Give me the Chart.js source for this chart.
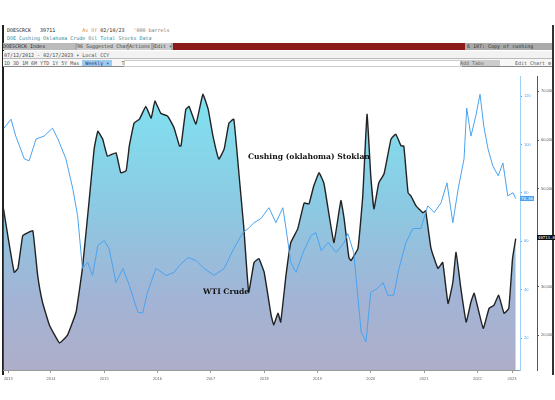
<!DOCTYPE html>
<html><head><meta charset="utf-8">
<script src="https://cdn.jsdelivr.net/npm/chart.js@4"></script>
<style>
body{margin:0;width:555px;height:400px;background:#fff;position:relative;overflow:hidden;font-family:"DejaVu Sans Mono",monospace}
.a{position:absolute;white-space:nowrap}
.t{font-size:5px}
</style></head><body>
<div class="a" style="left:2px;top:25px;width:2px;height:350px;background:#222"></div>
<div class="a" style="left:552px;top:25px;width:2px;height:350px;background:#333"></div>
<div class="a t" style="left:7px;top:27px;color:#222">DOESCRCK&nbsp;&nbsp;&nbsp;39711&nbsp;&nbsp;&nbsp;&nbsp;&nbsp;&nbsp;&nbsp;&nbsp;&nbsp;<span style="color:#e08a2a">As Of</span> 02/10/23&nbsp;&nbsp;&nbsp;<span style="color:#777">'000 barrels</span></div>
<div class="a t" style="left:7px;top:35px;color:#2a8a9a">DOE Cushing Oklahoma Crude Oil Total Stocks Data</div>
<div class="a" style="left:3px;top:43px;width:549px;height:7px;background:#aaa"></div>
<div class="a t" style="left:3px;top:43px;width:72px;height:7px;background:#bbb;color:#333">DOESCRCK Index</div>
<div class="a t" style="left:77px;top:43px;width:50px;height:7px;background:#ccc;color:#444">96 Suggested Charts</div>
<div class="a t" style="left:129px;top:43px;width:22px;height:7px;background:#ccc;color:#444">Actions ▾</div>
<div class="a t" style="left:154px;top:43px;width:17px;height:7px;background:#ccc;color:#444">Edit ▾</div>
<div class="a" style="left:173px;top:43px;width:292px;height:7px;background:#8b1a1a"></div>
<div class="a t" style="left:467px;top:43px;color:#333">6 107: Copy of cushing</div>
<div class="a" style="left:3px;top:51px;width:549px;height:7px;background:#f2f2f2;border-bottom:1px solid #bbb"></div>
<div class="a t" style="left:4px;top:52px;color:#444">07/12/2012 - 02/17/2023 ▾ Local CCY</div>
<div class="a" style="left:3px;top:59px;width:549px;height:7px;background:#f7f7f7;border-bottom:1px solid #888"></div>
<div class="a t" style="left:4px;top:60px;color:#555">1D 3D 1M 6M YTD 1Y 5Y Max <span style="background:#9ecbf0;color:#1a3a7a">&nbsp;Weekly ▾&nbsp;</span>&nbsp;&nbsp;&nbsp;Table</div>
<div class="a" style="left:124px;top:60px;width:336px;height:5px;background:#fff;border:1px solid #ccc"></div>
<div class="a t" style="left:460px;top:60px;width:40px;height:6px;background:#ccc;color:#666">Add Tabs</div>
<div class="a t" style="left:515px;top:60px;color:#555">Edit Chart ⚙</div>
<div class="a" style="left:0;top:72px;width:555px;height:318px"><canvas id="c" width="555" height="318"></canvas></div>
<div class="a" style="left:248px;top:152px;font:bold 7.6px 'DejaVu Serif',serif;color:#111">Cushing (oklahoma) Stoklan</div>
<div class="a" style="left:203px;top:287px;font:bold 7.6px 'DejaVu Serif',serif;color:#111">WTI Crude</div>
<div class="a" style="left:520px;top:196px;font-size:4px;background:#4aa3f0;color:#fff;padding:0 1px">78.06</div>
<div class="a" style="left:537px;top:235px;font-size:4px;background:#111;color:#fff;padding:0 1px">40711.00</div>
<script>
const stockDates=[2013.51,2013.59,2013.71,2013.78,2013.87,2013.96,2014.06,2014.15,2014.24,2014.37,2014.56,2014.71,2014.87,2014.99,2015.12,2015.21,2015.28,2015.37,2015.46,2015.62,2015.71,2015.81,2015.87,2015.96,2016.06,2016.18,2016.28,2016.35,2016.46,2016.59,2016.71,2016.81,2016.84,2016.93,2016.99,2017.12,2017.25,2017.35,2017.44,2017.55,2017.65,2017.74,2017.83,2017.93,2018.02,2018.11,2018.21,2018.30,2018.40,2018.53,2018.58,2018.66,2018.71,2018.81,2018.90,2019.03,2019.15,2019.24,2019.33,2019.43,2019.52,2019.62,2019.71,2019.84,2019.90,2019.99,2020.03,2020.16,2020.25,2020.33,2020.40,2020.46,2020.55,2020.65,2020.78,2020.87,2020.97,2021.02,2021.10,2021.15,2021.25,2021.38,2021.43,2021.53,2021.66,2021.75,2021.85,2021.94,2022.00,2022.09,2022.19,2022.28,2022.34,2022.51,2022.62,2022.71,2022.80,2022.90,2022.99,2023.06,2023.12];
const stockValues=[45900,40400,32900,33700,40400,41000,41400,32300,26800,22100,18400,20000,24700,33700,48000,58200,61800,60200,56700,57400,53300,53700,58800,63500,64300,66900,64500,68000,65500,64900,62500,58800,58800,66300,66900,63300,69400,66300,60800,56100,58200,63500,64300,52700,41800,28800,34900,35700,32900,24100,22100,24500,22700,32300,39000,41800,47100,46900,50600,53300,51200,44500,39000,47600,43900,35900,35300,37800,48600,65300,52700,45900,51200,53100,60200,61200,58800,58800,49200,48600,46500,45100,45500,37800,33700,34900,26500,30800,37000,29600,22700,26800,28600,21400,25500,26100,28200,24500,25500,35700,39800];
const priceDates=[2013.52,2013.65,2013.74,2013.90,2013.99,2014.12,2014.27,2014.43,2014.53,2014.68,2014.81,2014.90,2014.99,2015.09,2015.18,2015.28,2015.40,2015.49,2015.62,2015.75,2015.87,2016.03,2016.12,2016.21,2016.37,2016.56,2016.71,2016.81,2016.97,2017.12,2017.27,2017.46,2017.65,2017.83,2018.00,2018.10,2018.21,2018.34,2018.49,2018.62,2018.75,2018.81,2018.90,2019.00,2019.13,2019.28,2019.37,2019.47,2019.60,2019.75,2019.90,2019.97,2020.08,2020.22,2020.31,2020.40,2020.53,2020.63,2020.72,2020.83,2020.93,2021.06,2021.19,2021.34,2021.47,2021.59,2021.72,2021.83,2021.94,2022.04,2022.15,2022.20,2022.28,2022.37,2022.45,2022.52,2022.60,2022.69,2022.79,2022.88,2022.97,2023.07,2023.12];
const priceValues=[106.8,110.5,103.5,94.1,93.3,102.3,103.5,106.8,102.3,94.1,81.7,70.6,48.8,51.3,45.9,58.3,60.3,57.0,43.0,48.8,41.8,30.7,30.3,38.9,48.8,45.9,47.2,50.0,53.3,52.1,48.8,45.9,48.8,57.0,63.6,65.3,67.7,69.4,73.9,67.7,73.9,65.3,51.3,47.2,55.4,62.4,63.6,56.2,59.5,55.4,59.5,63.2,55.4,22.5,18.4,38.9,40.6,43.0,37.7,37.7,48.8,59.5,65.3,65.3,74.7,71.9,76.0,84.2,67.7,81.7,94.1,115.1,103.5,111.8,120.8,107.7,98.2,91.2,87.1,92.4,78.8,80.1,77.6];
const yearLabels=[2013,2014,2015,2016,2017,2018,2019,2020,2021,2022,2023];
const priceTicks=[20,40,60,80,100,120];
const stockTicks=[20000,30000,40000,50000,60000,70000];

const ctx=document.getElementById('c').getContext('2d');
new Chart(ctx,{type:'line',
data:{datasets:[
 {label:'WTI Crude',data:priceDates.map((d,i)=>({x:d,y:priceValues[i]})),yAxisID:'yp',borderColor:'#4aa3f0',borderWidth:1,pointRadius:0,tension:0,fill:false,order:1},
 {label:'Cushing',data:stockDates.map((d,i)=>({x:d,y:stockValues[i]})),yAxisID:'ys',borderColor:'#222',borderWidth:1.4,pointRadius:0,tension:0.1,order:2,
  fill:'start',backgroundColor:(c)=>{const a=c.chart.chartArea;if(!a)return '#9fd';const g=c.chart.ctx.createLinearGradient(0,a.top,0,a.bottom);g.addColorStop(0,'#7ee6f3');g.addColorStop(0.45,'#8cc9e2');g.addColorStop(0.75,'#a2b4d6');g.addColorStop(1,'#aeaec8');return g;}}
]},
options:{animation:false,responsive:false,layout:{padding:{left:3,top:3,right:0,bottom:0}},
 plugins:{legend:{display:false},tooltip:{enabled:false}},
 scales:{
  x:{type:'linear',min:2013.5,max:2023.2,afterFit:s=>{s.height=20},
   afterBuildTicks:s=>{s.ticks=yearLabels.map(y=>({value:y===2013?2013.6:(y===2023?2023.05:y+0.4)}))},
   ticks:{autoSkip:false,maxRotation:0,font:{size:4},color:'#666',callback:v=>String(Math.floor(v))},
   grid:{drawOnChartArea:false,tickLength:3,color:'#999'},border:{color:'#999'}},
  yp:{position:'right',min:6.8,max:128.2,afterFit:s=>{s.width=17},
   afterBuildTicks:s=>{s.ticks=priceTicks.map(v=>({value:v}))},
   ticks:{font:{size:4},color:'#4aa3f0',padding:2},grid:{drawOnChartArea:false,tickLength:2,color:'#4aa3f0'},border:{color:'#9cd0f5'}},
  ys:{position:'right',min:12860,max:73060,afterFit:s=>{s.width=18},
   afterBuildTicks:s=>{s.ticks=stockTicks.map(v=>({value:v}))},
   ticks:{font:{size:4},color:'#555',padding:2},grid:{drawOnChartArea:false,tickLength:2,color:'#555'},border:{color:'#555'}}
 }}
});
</script></body></html>
